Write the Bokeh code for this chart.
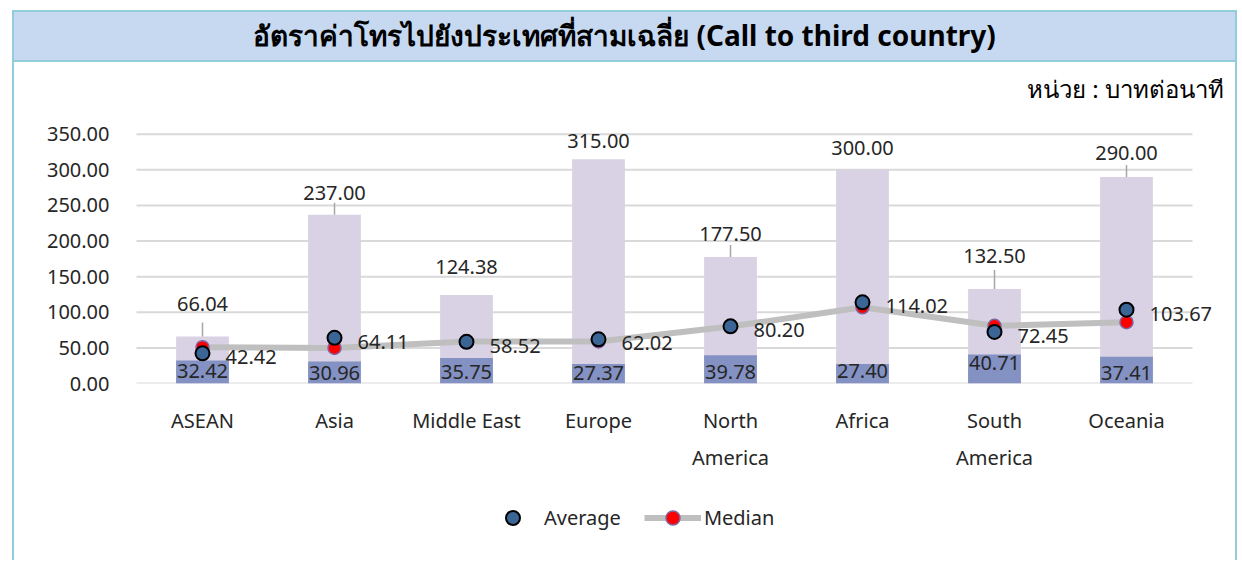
from bokeh.plotting import figure
from bokeh.layouts import column
from bokeh.models import (ColumnDataSource, Range1d, FactorRange, NumeralTickFormatter, CategoricalAxis,
                          Legend, LegendItem, CustomJSTickFormatter, Div, Label)
from bokeh.core.properties import value
from bokeh.embed import file_html
from bokeh.resources import INLINE

# ---------------- data ----------------
categories = ["ASEAN", "Asia", "Middle East", "Europe", "North America", "Africa", "South America", "Oceania"]
max_rate = [66.04, 237.00, 124.38, 315.00, 177.50, 300.00, 132.50, 290.00]
min_rate = [32.42, 30.96, 35.75, 27.37, 39.78, 27.40, 40.71, 37.41]
avg_rate = [42.42, 64.11, 58.52, 62.02, 80.20, 114.02, 72.45, 103.67]
median_rate = [51.0, 50.0, 59.0, 59.0, 80.0, 107.0, 81.0, 86.0]
y_ticks = [0, 50, 100, 150, 200, 250, 300, 350]
title_text = "อัตราค่าโทรไปยังประเทศที่สามเฉลี่ย (Call to third country)"
unit_text = "หน่วย : บาทต่อนาที"

# ---------------- style / placement ----------------
FONT = "Noto Sans"
TXT = "#262626"
FS = "20px"
FRAME_COL = "#92CDDC"
max_lbl_off = [-32, -22, -28, -18.6, -23, -22, -33, -24]   # px above bar top
leader_px = [14, 12, 0, 0, 12, 0, 19, 12]
min_lbl_off = [-6, -4, -5, -4, -5, -6, -14, -4]

X0, Y0 = 14.5, 62.0           # page position of main figure's top-left corner
CW = 1221                     # inner width of the boxed chart
PAD = 33                      # extra frame room each side; grid drawn only over categories
STEP = 132.0                  # px per category
PLOT_PX = 249.3               # px spanned by 0..350
W, H = CW, 418
FL, FR, FT, FB = 122 - PAD, 43 - PAD, 2, 97
frame_h = H - FT - FB
px_per_unit = PLOT_PX / 350.0
y_top = frame_h / px_per_unit
pad_pct = (2.0 * PAD / STEP) / len(categories)
frame_left_page = X0 + FL
frame_bottom_page = Y0 + FT + frame_h

src = ColumnDataSource(dict(
    cat=categories, mx=max_rate, mn=min_rate, avg=avg_rate, med=median_rate,
    mx_lbl=[f"{v:.2f}" for v in max_rate],
    mn_lbl=[f"{v:.2f}" for v in min_rate],
    avg_lbl=[f"{v:.2f}" for v in avg_rate],
    mx_off=max_lbl_off, mn_off=min_lbl_off,
    lead_top=[m + l / px_per_unit for m, l in zip(max_rate, leader_px)],
))
grid_src = ColumnDataSource(dict(
    x0=[(categories[0], -0.5)] * len(y_ticks),
    x1=[(categories[-1], 0.5)] * len(y_ticks),
    y=y_ticks,
))

# ---------------- header ----------------
header = Div(text=title_text, width=CW, height=50, margin=0,
             styles={"background-color": "#C6D9F1", "border-bottom": f"2.5px solid {FRAME_COL}",
                     "font-family": FONT, "font-size": "28px", "font-weight": "bold",
                     "text-align": "center", "line-height": "47px", "color": "black"})

# ---------------- main chart ----------------
p = figure(width=W, height=H, title=None,
           x_range=FactorRange(*categories, range_padding=pad_pct, range_padding_units="percent"),
           y_range=Range1d(0, y_top), output_backend="svg", toolbar_location=None,
           min_border_left=FL, min_border_right=FR, min_border_top=FT, min_border_bottom=FB)
p.outline_line_color = None
p.background_fill_color = "white"
p.border_fill_color = "white"

p.yaxis.ticker = y_ticks
p.yaxis.formatter = NumeralTickFormatter(format="0.00")
p.yaxis.axis_line_color = None
p.yaxis.major_tick_line_color = None
p.yaxis.minor_tick_line_color = None
p.yaxis.major_label_standoff = 21 - PAD
p.yaxis.major_label_text_font = FONT
p.yaxis.major_label_text_font_size = FS
p.yaxis.major_label_text_color = TXT

p.xaxis.axis_line_color = None
p.xaxis.major_tick_line_color = None
p.xaxis.major_label_standoff = 17
p.xaxis.major_label_text_font = FONT
p.xaxis.major_label_text_font_size = FS
p.xaxis.major_label_text_color = TXT
p.xaxis.formatter = CustomJSTickFormatter(code="return tick.endsWith(' America') ? tick.split(' ')[0] : tick;")

ax2 = CategoricalAxis(axis_line_color=None, major_tick_line_color=None, major_label_standoff=1,
                      major_label_text_font=FONT, major_label_text_font_size=FS,
                      major_label_text_color=TXT,
                      formatter=CustomJSTickFormatter(code="return tick.endsWith(' America') ? 'America' : '';"))
p.add_layout(ax2, "below")

p.xgrid.grid_line_color = None
p.ygrid.grid_line_color = None
p.segment(x0="x0", y0="y", x1="x1", y1="y", line_color="#D9D9D9", line_width=2, source=grid_src)

p.vbar(x="cat", top="mx", width=0.4, fill_color="#D9D2E5", line_color=None, source=src)
p.vbar(x="cat", top="mn", width=0.4, fill_color="#8391C3", line_color=None, source=src)
p.segment(x0="cat", y0="mx", x1="cat", y1="lead_top", line_color="#A6A6A6", line_width=1.5, source=src)
p.line(x="cat", y="med", line_color="#BFBFBF", line_width=6, source=src)
p.scatter(x="cat", y="med", size=13, fill_color="#FF0000", line_color="#8064A2", line_width=1.5, source=src)
p.scatter(x="cat", y="avg", size=14, fill_color="#3B6595", line_color="black", line_width=2, source=src)

p.text(x="cat", y="mx", text="mx_lbl", y_offset="mx_off", text_align="center", text_baseline="middle",
       text_font=value(FONT), text_font_size=FS, text_color=TXT, source=src)
p.text(x="cat", y="avg", text="avg_lbl", x_offset=23, y_offset=4, text_align="left", text_baseline="middle",
       text_font=value(FONT), text_font_size=FS, text_color=TXT, source=src)
p.text(x="cat", y=0, text="mn_lbl", y_offset="mn_off", text_align="center", text_baseline="bottom",
       text_font=value(FONT), text_font_size=FS, text_color=TXT, source=src)

# unit note (inside the frame, screen px from frame bottom-left)
p.add_layout(Label(x=1224 - frame_left_page, y=frame_bottom_page - 88, x_units="screen", y_units="screen",
                   text=unit_text, text_align="right", text_baseline="middle",
                   text_font=FONT, text_font_size="24px", text_color="black"))

# ---------------- legend strip (glyph samples kept out of view) ----------------
LH = 80
lg = figure(width=CW, height=LH, title=None, x_range=p.x_range, y_range=Range1d(1000, 1001),
            output_backend="svg", toolbar_location=None, min_border=0,
            x_axis_location=None, y_axis_location=None)
lg.outline_line_color = None
lg.grid.grid_line_color = None
lg_avg = lg.scatter(x="cat", y="avg", size=14, fill_color="#3B6595", line_color="black",
                    line_width=2, source=src)
lg_line = lg.line(x="cat", y="med", line_color="#BFBFBF", line_width=6, source=src)
lg_med = lg.scatter(x="cat", y="med", size=13, fill_color="#FF0000", line_color="#8064A2",
                    line_width=1.5, source=src)
legend = Legend(items=[LegendItem(label="Average", renderers=[lg_avg]),
                       LegendItem(label="Median", renderers=[lg_line, lg_med])],
                orientation="horizontal", location=(484.5 - frame_left_page, 25),
                glyph_width=57, glyph_height=35, label_standoff=3, spacing=23,
                padding=0, margin=0, border_line_color=None, background_fill_alpha=0,
                label_text_font=FONT, label_text_font_size=FS, label_text_color=TXT)
lg.add_layout(legend)

root = column(header, p, lg, spacing=0,
              styles={"border-top": f"2.5px solid {FRAME_COL}", "border-left": f"2.5px solid {FRAME_COL}",
                      "border-right": f"2.5px solid {FRAME_COL}", "margin-left": "12px",
                      "margin-top": "10px", "background-color": "white"})

open("out.html", "w").write(file_html(root, INLINE))
